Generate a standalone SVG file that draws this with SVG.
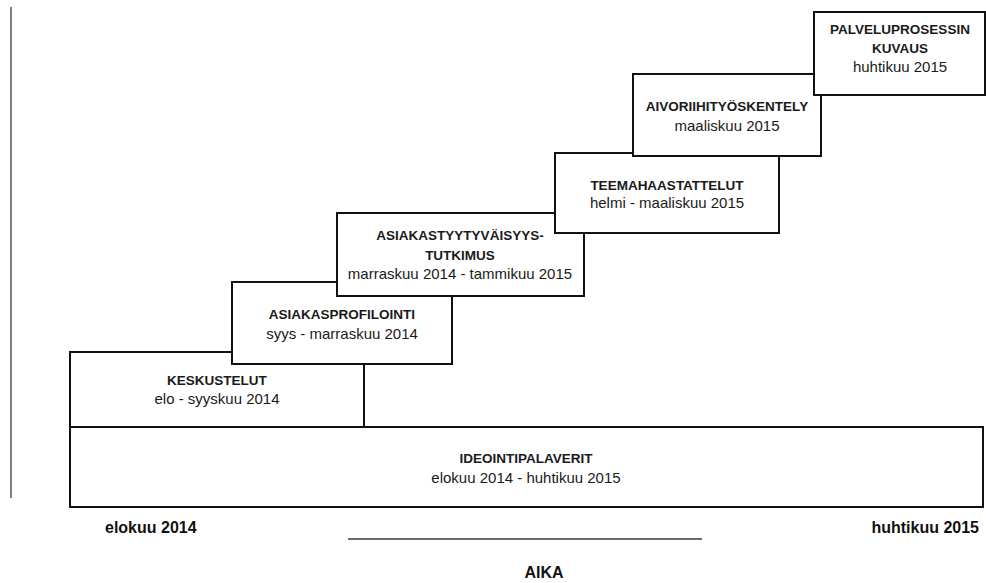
<svg xmlns="http://www.w3.org/2000/svg" width="986" height="583" viewBox="0 0 986 583">
  <style>
    .box { fill: #ffffff; stroke: #111111; stroke-width: 2; }
    .title { font-family: "Liberation Sans", Arial, sans-serif; font-weight: bold; font-size: 13.5px; fill: #1a1a1a; text-anchor: middle; }
    .date { font-family: "Liberation Sans", Arial, sans-serif; font-size: 15px; fill: #1a1a1a; text-anchor: middle; }
    .axis-label { font-family: "Liberation Sans", Arial, sans-serif; font-weight: bold; font-size: 16px; fill: #111111; }
  </style>

  <!-- axes -->
  <g id="axis">
    <line x1="11" y1="7" x2="11" y2="498" stroke="#555555" stroke-width="1.5"/>
    <line x1="348" y1="539" x2="702" y2="539" stroke="#6b6b6b" stroke-width="2"/>
    <text class="axis-label" x="105" y="533">elokuu 2014</text>
    <text class="axis-label" x="979" y="533" text-anchor="end">huhtikuu 2015</text>
    <text class="axis-label" x="544" y="578" text-anchor="middle" font-size="18px">AIKA</text>
  </g>

  <!-- phases, drawn bottom-up so each step overlaps the previous one -->
  <g id="ideointipalaverit">
    <rect class="box" x="70" y="427" width="913" height="80"/>
    <text class="title" x="526" y="463">IDEOINTIPALAVERIT</text>
    <text class="date" x="526" y="483">elokuu 2014 - huhtikuu 2015</text>
  </g>

  <g id="keskustelut">
    <rect class="box" x="70" y="352" width="294" height="75"/>
    <text class="title" x="217" y="385">KESKUSTELUT</text>
    <text class="date" x="217" y="404">elo - syyskuu 2014</text>
  </g>

  <g id="asiakasprofilointi">
    <rect class="box" x="232" y="282" width="220" height="82"/>
    <text class="title" x="342" y="319">ASIAKASPROFILOINTI</text>
    <text class="date" x="342" y="339">syys - marraskuu 2014</text>
  </g>

  <g id="asiakastyytyvaisyystutkimus">
    <rect class="box" x="337" y="213" width="247" height="83"/>
    <text class="title" x="460" y="240">ASIAKASTYYTYVÄISYYS-</text>
    <text class="title" x="460" y="260">TUTKIMUS</text>
    <text class="date" x="460" y="279">marraskuu 2014 - tammikuu 2015</text>
  </g>

  <g id="teemahaastattelut">
    <rect class="box" x="555" y="153" width="224" height="80"/>
    <text class="title" x="667" y="190">TEEMAHAASTATTELUT</text>
    <text class="date" x="667" y="208">helmi - maaliskuu 2015</text>
  </g>

  <g id="aivoriihityoskentely">
    <rect class="box" x="633" y="74" width="188" height="82"/>
    <text class="title" x="727" y="111">AIVORIIHITYÖSKENTELY</text>
    <text class="date" x="727" y="131">maaliskuu 2015</text>
  </g>

  <g id="palveluprosessin-kuvaus">
    <rect class="box" x="814" y="12" width="171" height="83"/>
    <text class="title" x="900" y="34">PALVELUPROSESSIN</text>
    <text class="title" x="900" y="53">KUVAUS</text>
    <text class="date" x="900" y="72">huhtikuu 2015</text>
  </g>
</svg>
